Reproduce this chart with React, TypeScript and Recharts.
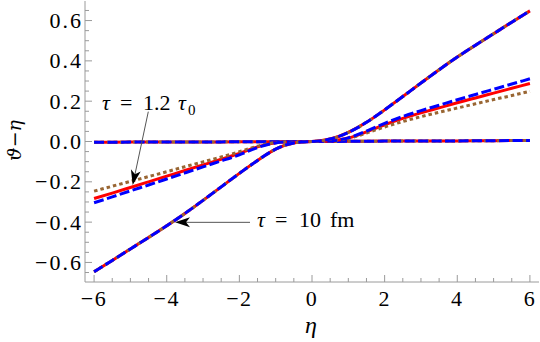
import React from 'react';
import { LineChart, Line, XAxis, YAxis, ReferenceLine, ReferenceDot } from 'recharts';

// ---------- data ----------
const eta = [-6, -5.5, -5, -4.5, -4, -3.5, -3, -2.5, -2, -1.5, -1, -0.5, 0, 0.5, 1, 1.5, 2, 2.5, 3, 3.5, 4, 4.5, 5, 5.5, 6];
// tau = 10 fm (all three models overlap)
const tau10 = [-0.646, -0.590, -0.533, -0.476, -0.418, -0.357, -0.292, -0.225, -0.158, -0.094, -0.038, -0.007, 0, 0.012, 0.045, 0.095, 0.157, 0.223, 0.290, 0.356, 0.419, 0.478, 0.535, 0.592, 0.648];
// tau = 1.2 tau0
const medRed = [-0.283, -0.256, -0.228, -0.200, -0.172, -0.144, -0.116, -0.088, -0.059, -0.027, -0.006, -0.001, 0, 0.003, 0.017, 0.048, 0.083, 0.115, 0.142, 0.167, 0.192, 0.216, 0.240, 0.264, 0.288];
const medBlue = [-0.304, -0.275, -0.245, -0.216, -0.186, -0.156, -0.126, -0.096, -0.066, -0.030, -0.007, -0.001, 0, 0.003, 0.018, 0.052, 0.090, 0.124, 0.153, 0.180, 0.207, 0.233, 0.259, 0.285, 0.311];
const medBrown = [-0.246, -0.222, -0.198, -0.174, -0.150, -0.125, -0.101, -0.077, -0.051, -0.023, -0.005, -0.001, 0, 0.003, 0.015, 0.042, 0.072, 0.099, 0.123, 0.145, 0.166, 0.187, 0.208, 0.228, 0.249];
// tau = tau0 (flat)
const flat = [-0.004, -0.004, -0.003, -0.003, -0.003, -0.002, -0.002, -0.002, -0.001, -0.001, -0.001, 0, 0, 0, 0.001, 0.001, 0.002, 0.002, 0.002, 0.003, 0.003, 0.004, 0.004, 0.005, 0.005];

const xMajorTicks = [-6, -4, -2, 0, 2, 4, 6];
const xAllTicks = [-6, -5.5, -5, -4.5, -4, -3.5, -3, -2.5, -2, -1.5, -1, -0.5, 0, 0.5, 1, 1.5, 2, 2.5, 3, 3.5, 4, 4.5, 5, 5.5, 6];
const yMajorTicks = [-0.6, -0.4, -0.2, 0, 0.2, 0.4, 0.6];
const yAllTicks = [-0.65, -0.6, -0.55, -0.5, -0.45, -0.4, -0.35, -0.3, -0.25, -0.2, -0.15, -0.1, -0.05, 0, 0.05, 0.1, 0.15, 0.2, 0.25, 0.3, 0.35, 0.4, 0.45, 0.5, 0.55, 0.6, 0.65];
const xDomain: [number, number] = [-6.25, 6.25];
const yDomain: [number, number] = [-0.697, 0.697];

const label1Pos = { x: -5.782, y: 0.1563 };
const arrow1 = [{ x: -4.507, y: 0.148 }, { x: -4.937, y: -0.216 }];
const label2Pos = { x: -1.514, y: -0.424 };
const arrow2 = [{ x: -1.707, y: -0.401 }, { x: -3.772, y: -0.401 }];

const data = eta.map((e, i) => ({
  eta: e,
  big: tau10[i],
  red: medRed[i],
  blue: medBlue[i],
  brown: medBrown[i],
  flat: flat[i],
}));

// ---------- styles ----------
const SERIF_STYLE = { fontFamily: "'Liberation Serif', 'Times New Roman', Tinos, serif" };
const FRAME = '#9a9a9a';
const MAJOR = 7;
const MINOR = 4;
const BLUE = '#0000ff';
const RED = '#ff0000';
const BROWN = '#996633';
const LW = 3;
const CURVE = 'natural';

const isMajor = (v: number, majors: number[]) => majors.some((m) => Math.abs(m - v) < 1e-9);
const fmtNum = (v: number, digits: number) => {
  const s = Math.abs(v).toFixed(digits);
  return v < -1e-9 ? '\u2212' + s : s;
};

const BottomTick = (props: any) => {
  const { x, y, payload } = props;
  const major = isMajor(payload.value, xMajorTicks);
  return (
    <g>
      <line x1={x} x2={x} y1={y} y2={y - (major ? MAJOR : MINOR)} stroke={FRAME} strokeWidth={1} />
      {major && (
        <text x={x} y={y + 24} textAnchor="middle" style={SERIF_STYLE} fontSize={22} letterSpacing={1.5} fill="#000">
          {fmtNum(payload.value, 0)}
        </text>
      )}
    </g>
  );
};

const TopTick = (props: any) => {
  const { x, y, payload } = props;
  const major = isMajor(payload.value, xMajorTicks);
  return <line x1={x} x2={x} y1={y} y2={y + (major ? MAJOR : MINOR)} stroke={FRAME} strokeWidth={1} />;
};

const LeftTick = (props: any) => {
  const { x, y, payload } = props;
  const major = isMajor(payload.value, yMajorTicks);
  return (
    <g>
      <line x1={x} x2={x + (major ? MAJOR : MINOR)} y1={y} y2={y} stroke={FRAME} strokeWidth={1} />
      {major && (
        <text x={x - 2} y={y + 7.5} textAnchor="end" style={SERIF_STYLE} fontSize={22} letterSpacing={2} fill="#000">
          {fmtNum(payload.value, 1)}
        </text>
      )}
    </g>
  );
};

const RightTick = (props: any) => {
  const { x, y, payload } = props;
  const major = isMajor(payload.value, yMajorTicks);
  return <line x1={x} x2={x - (major ? MAJOR : MINOR)} y1={y} y2={y} stroke={FRAME} strokeWidth={1} />;
};

const ArrowShape = (props: any) => {
  const { x1, y1, x2, y2 } = props;
  const dx = x2 - x1;
  const dy = y2 - y1;
  const len = Math.sqrt(dx * dx + dy * dy) || 1;
  const ux = dx / len;
  const uy = dy / len;
  const nx = -uy;
  const ny = ux;
  const L = 15;
  const W = 5;
  const back = 4;
  const pts = [
    [x2, y2],
    [x2 - L * ux + W * nx, y2 - L * uy + W * ny],
    [x2 - (L - back) * ux, y2 - (L - back) * uy],
    [x2 - L * ux - W * nx, y2 - L * uy - W * ny],
  ]
    .map((p) => p.join(','))
    .join(' ');
  return (
    <g>
      <line x1={x1} y1={y1} x2={x2 - (L - back) * ux} y2={y2 - (L - back) * uy} stroke="#555" strokeWidth={1} />
      <polygon points={pts} fill="#000" />
    </g>
  );
};

const Label1 = (props: any) => {
  const { cx, cy } = props;
  return (
    <g style={SERIF_STYLE} fontSize={22} fill="#000">
      <text x={cx} y={cy} fontStyle="italic">τ</text>
      <text x={cx + 18} y={cy}>=</text>
      <text x={cx + 41} y={cy}>1.2</text>
      <text x={cx + 76} y={cy} fontStyle="italic">τ</text>
      <text x={cx + 86} y={cy + 5} fontSize={15}>0</text>
    </g>
  );
};

const Label2 = (props: any) => {
  const { cx, cy } = props;
  return (
    <g style={SERIF_STYLE} fontSize={22} fill="#000">
      <text x={cx} y={cy} fontStyle="italic">τ</text>
      <text x={cx + 18} y={cy}>=</text>
      <text x={cx + 42} y={cy}>10</text>
      <text x={cx + 73} y={cy}>fm</text>
    </g>
  );
};

const YLabel = (props: any) => {
  const { viewBox } = props;
  const cx = viewBox.x + 14;
  const cy = viewBox.y + viewBox.height / 2 - 1;
  return (
    <text
      x={cx}
      y={cy}
      transform={`rotate(-90, ${cx}, ${cy})`}
      textAnchor="middle"
      dominantBaseline="central"
      style={{ fontFamily: "'DejaVu Serif', serif" }}
      fontSize={19}
      fontStyle="italic"
      fill="#000"
    >
      ϑ−η
    </text>
  );
};

const XLabel = (props: any) => {
  const { viewBox } = props;
  const cx = viewBox.x + viewBox.width / 2 - 1;
  return (
    <text x={cx} y={viewBox.y + 51} textAnchor="middle" style={SERIF_STYLE} fontSize={24} fontStyle="italic" fill="#000">
      η
    </text>
  );
};

export default function App() {
  return (
    <div style={{ position: 'absolute', left: 0, top: 0, width: 540, height: 342, background: '#fff' }}>
      <LineChart width={540} height={342} data={data} margin={{ top: 1, right: 1, bottom: 30, left: 0 }}>
        <XAxis
          xAxisId="x"
          dataKey="eta"
          type="number"
          domain={xDomain}
          allowDataOverflow
          ticks={xAllTicks}
          interval={0}
          tickSize={0}
          tickMargin={0}
          tickLine={false}
          tick={<BottomTick />}
          axisLine={{ stroke: FRAME }}
          height={30}
          label={<XLabel />}
        />
        <XAxis
          xAxisId="top"
          orientation="top"
          type="number"
          domain={xDomain}
          allowDataOverflow
          ticks={xAllTicks}
          interval={0}
          tickSize={0}
          tickMargin={0}
          tickLine={false}
          tick={<TopTick />}
          axisLine={{ stroke: FRAME }}
          height={0}
        />
        <YAxis
          yAxisId="y"
          type="number"
          domain={yDomain}
          allowDataOverflow
          ticks={yAllTicks}
          interval={0}
          tickSize={0}
          tickMargin={0}
          tickLine={false}
          tick={<LeftTick />}
          axisLine={{ stroke: FRAME }}
          width={85}
          label={<YLabel />}
        />
        <YAxis
          yAxisId="right"
          orientation="right"
          type="number"
          domain={yDomain}
          allowDataOverflow
          ticks={yAllTicks}
          interval={0}
          tickSize={0}
          tickMargin={0}
          tickLine={false}
          tick={<RightTick />}
          axisLine={{ stroke: FRAME }}
          width={0}
        />

        {/* tau = tau0 (flat) */}
        <Line xAxisId="x" yAxisId="y" type="linear" dataKey="flat" stroke={RED} strokeWidth={LW} dot={false} isAnimationActive={false} />
        <Line xAxisId="x" yAxisId="y" type="linear" dataKey="flat" stroke={BROWN} strokeWidth={LW} strokeDasharray="3.5 3" dot={false} isAnimationActive={false} />
        <Line xAxisId="x" yAxisId="y" type="linear" dataKey="flat" stroke={BLUE} strokeWidth={LW} strokeDasharray="10 3.5" dot={false} isAnimationActive={false} />

        {/* tau = 1.2 tau0 */}
        <Line xAxisId="x" yAxisId="y" type={CURVE} dataKey="red" stroke={RED} strokeWidth={LW} dot={false} isAnimationActive={false} />
        <Line xAxisId="x" yAxisId="y" type={CURVE} dataKey="brown" stroke={BROWN} strokeWidth={LW} strokeDasharray="3.5 3" dot={false} isAnimationActive={false} />
        <Line xAxisId="x" yAxisId="y" type={CURVE} dataKey="blue" stroke={BLUE} strokeWidth={LW} strokeDasharray="10 3.5" dot={false} isAnimationActive={false} />

        {/* tau = 10 fm */}
        <Line xAxisId="x" yAxisId="y" type={CURVE} dataKey="big" stroke={RED} strokeWidth={LW} dot={false} isAnimationActive={false} />
        <Line xAxisId="x" yAxisId="y" type={CURVE} dataKey="big" stroke={BROWN} strokeWidth={LW} strokeDasharray="3.5 3" dot={false} isAnimationActive={false} />
        <Line xAxisId="x" yAxisId="y" type={CURVE} dataKey="big" stroke={BLUE} strokeWidth={LW} strokeDasharray="10 3.5" dot={false} isAnimationActive={false} />

        <ReferenceLine xAxisId="x" yAxisId="y" segment={arrow1} shape={<ArrowShape />} />
        <ReferenceLine xAxisId="x" yAxisId="y" segment={arrow2} shape={<ArrowShape />} />
        <ReferenceDot xAxisId="x" yAxisId="y" x={label1Pos.x} y={label1Pos.y} r={0} shape={<Label1 />} />
        <ReferenceDot xAxisId="x" yAxisId="y" x={label2Pos.x} y={label2Pos.y} r={0} shape={<Label2 />} />
      </LineChart>
    </div>
  );
}
